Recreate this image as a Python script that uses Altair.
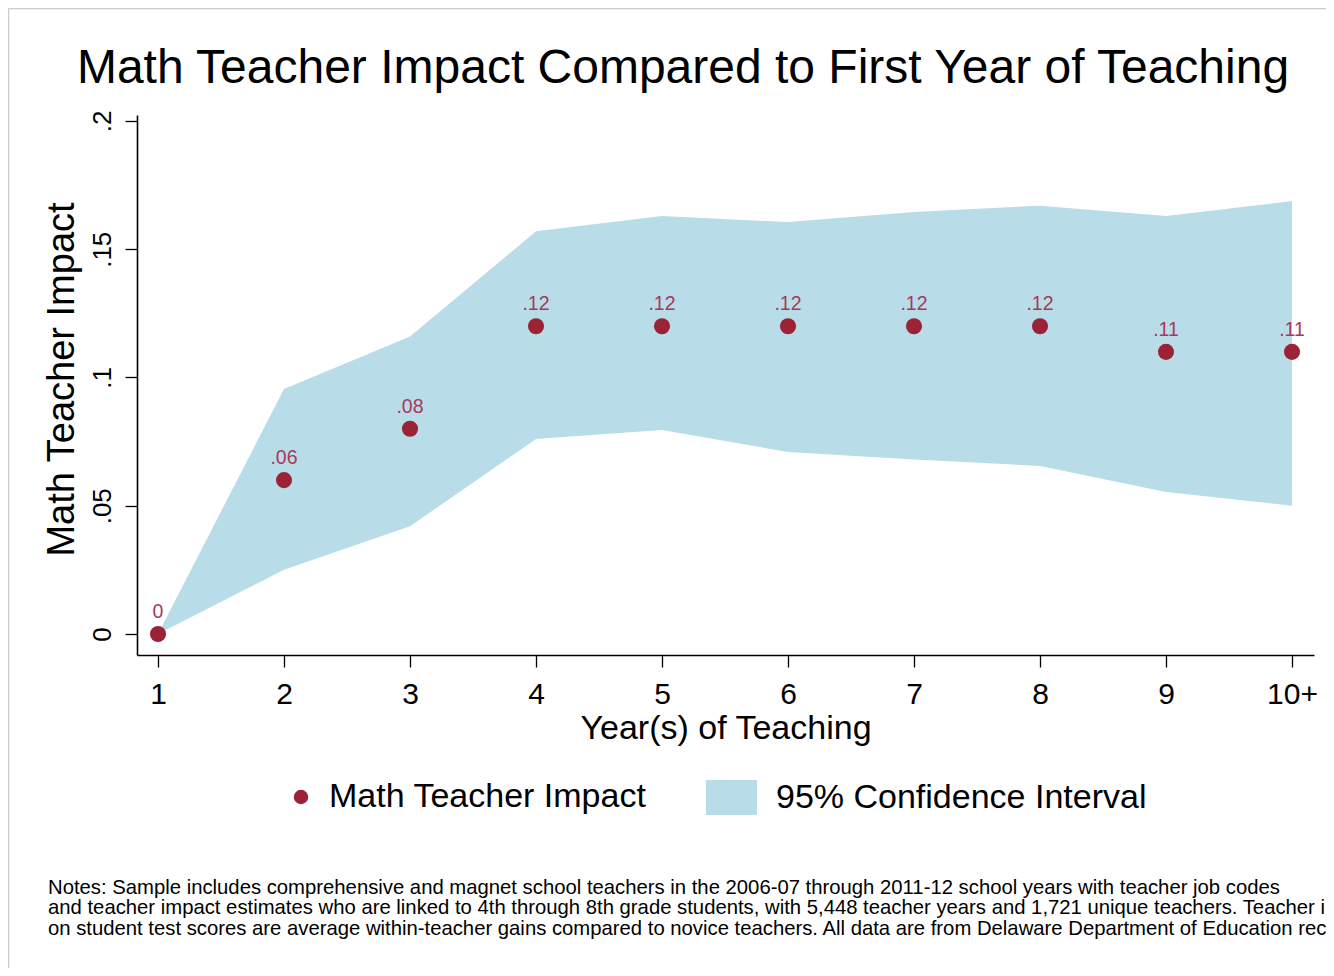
import altair as alt
import pandas as pd

# ---- data ----
years = [1, 2, 3, 4, 5, 6, 7, 8, 9, 10]
impact = [0.0, 0.06, 0.08, 0.12, 0.12, 0.12, 0.12, 0.12, 0.11, 0.11]
ci_low = [0.0, 0.025, 0.042, 0.076, 0.0795, 0.071, 0.068, 0.0655, 0.0554, 0.050]
ci_high = [0.0, 0.0955, 0.116, 0.157, 0.163, 0.1606, 0.1645, 0.167, 0.163, 0.1688]
x_ticks = [1, 2, 3, 4, 5, 6, 7, 8, 9, 10]
y_ticks = [0, 0.05, 0.1, 0.15, 0.2]

title_text = "Math Teacher Impact Compared to First Year of Teaching"
notes_lines = [
    "Notes: Sample includes comprehensive and magnet school teachers in the 2006-07 through 2011-12 school years with teacher job codes",
    "and teacher impact estimates who are linked to 4th through 8th grade students, with 5,448 teacher years and 1,721 unique teachers. Teacher impacts",
    "on student test scores are average within-teacher gains compared to novice teachers. All data are from Delaware Department of Education records.",
]

FONT = "Liberation Sans"
PT_COLOR = "#9b2335"
LAB_COLOR = "#a8385a"
CI_COLOR = "#b8dde8"

df = pd.DataFrame({
    "year": years,
    "impact": impact,
    "lo": ci_low,
    "hi": ci_high,
    "pt": ["Math Teacher Impact"] * len(years),
    "ci": ["95% Confidence Interval"] * len(years),
})

W, H = 1177, 540
xscale = alt.Scale(domain=[0.8333, 10.1746], nice=False, zero=False)
yscale = alt.Scale(domain=[-0.00819, 0.20234], nice=False, zero=False)

base = alt.Chart(df)

xaxis = alt.Axis(
    values=x_ticks, labelExpr="datum.value == 10 ? '10+' : format(datum.value, 'd')",
    title="Year(s) of Teaching", titleFont=FONT, titleFontSize=34, titleFontWeight="normal",
    titleColor="black", titlePadding=2,
    labelFont=FONT, labelFontSize=30, labelColor="black", labelPadding=12,
    tickSize=12, tickColor="black", tickWidth=1.3, domainColor="black", domainWidth=1.6,
    grid=False, labelFlush=False,
)
yaxis = alt.Axis(
    values=y_ticks,
    labelExpr="datum.value == 0 ? '0' : substring(format(datum.value, '.2~f'), 1)",
    labelAngle=270, labelAlign="center", labelBaseline="bottom",
    title="Math Teacher Impact", titleFont=FONT, titleFontSize=38, titleFontWeight="normal",
    titleColor="black", titlePadding=8, titleY=264,
    labelFont=FONT, labelFontSize=26, labelColor="black", labelPadding=10,
    tickSize=12, tickColor="black", tickWidth=1.3, domainColor="black", domainWidth=1.6,
    grid=False, labelFlush=False,
)

area = base.mark_area(opacity=1, interpolate="linear").encode(
    x=alt.X("year:Q", scale=xscale, axis=xaxis),
    y=alt.Y("lo:Q", scale=yscale, axis=yaxis),
    y2="hi:Q",
    fill=alt.Fill(
        "ci:N",
        scale=alt.Scale(domain=["95% Confidence Interval"], range=[CI_COLOR]),
        legend=alt.Legend(
            orient="none", legendX=569, legendY=657, title=None, padding=0,
            labelFont=FONT, labelFontSize=34, labelColor="black", labelOffset=19,
            labelLimit=0,
            symbolType="M-1,-0.686H1V0.686H-1Z", symbolSize=2601,
            symbolStrokeWidth=0, symbolOpacity=1,
        ),
    ),
)

points = base.mark_circle(opacity=1, size=260).encode(
    x="year:Q",
    y="impact:Q",
    color=alt.Color(
        "pt:N",
        scale=alt.Scale(domain=["Math Teacher Impact"], range=[PT_COLOR]),
        legend=alt.Legend(
            orient="none", legendX=147, legendY=665, title=None, padding=0,
            labelFont=FONT, labelFontSize=34, labelColor="black", labelOffset=11,
            labelLimit=0,
            symbolType="circle", symbolSize=210, symbolOpacity=1,
        ),
    ),
)

labels = base.transform_calculate(
    lab="datum.impact == 0 ? '0' : substring(format(datum.impact, '.2f'), 1)"
).mark_text(font=FONT, fontSize=19.5, color=LAB_COLOR, dy=-22).encode(
    x="year:Q", y="impact:Q", text="lab:N"
)

title = alt.Chart(pd.DataFrame({"t": [title_text]})).mark_text(
    font=FONT, fontSize=48, color="black", align="center", baseline="alphabetic",
).encode(x=alt.value(546), y=alt.value(-32), text="t:N")

notes = alt.Chart(pd.DataFrame({"t": ["\n".join(notes_lines)]})).mark_text(
    font=FONT, fontSize=20.3, color="black", align="left", baseline="top",
    lineBreak="\n", lineHeight=20.4,
).encode(x=alt.value(-89), y=alt.value(763), text="t:N")

border = alt.Chart(pd.DataFrame({"a": [0]})).mark_rule(color="#cccccc", strokeWidth=1.5).encode(
    x=alt.value(-128.5), y=alt.value(-107), y2=alt.value(H + 313)
)
border_top = alt.Chart(pd.DataFrame({"a": [0]})).mark_rule(color="#cccccc", strokeWidth=1.5).encode(
    x=alt.value(-129), x2=alt.value(W + 12), y=alt.value(-106.5)
)

chart = alt.layer(area, points, labels, title, notes, border, border_top).resolve_scale(
    color="independent", fill="independent"
).properties(
    width=W, height=H,
    autosize=alt.AutoSizeParams(type="none"),
    padding={"left": 129, "top": 107, "right": 12, "bottom": 313},
).configure(background="white").configure_view(stroke=None)

chart.save("out.html", embed_options={"renderer": "svg", "actions": False})
